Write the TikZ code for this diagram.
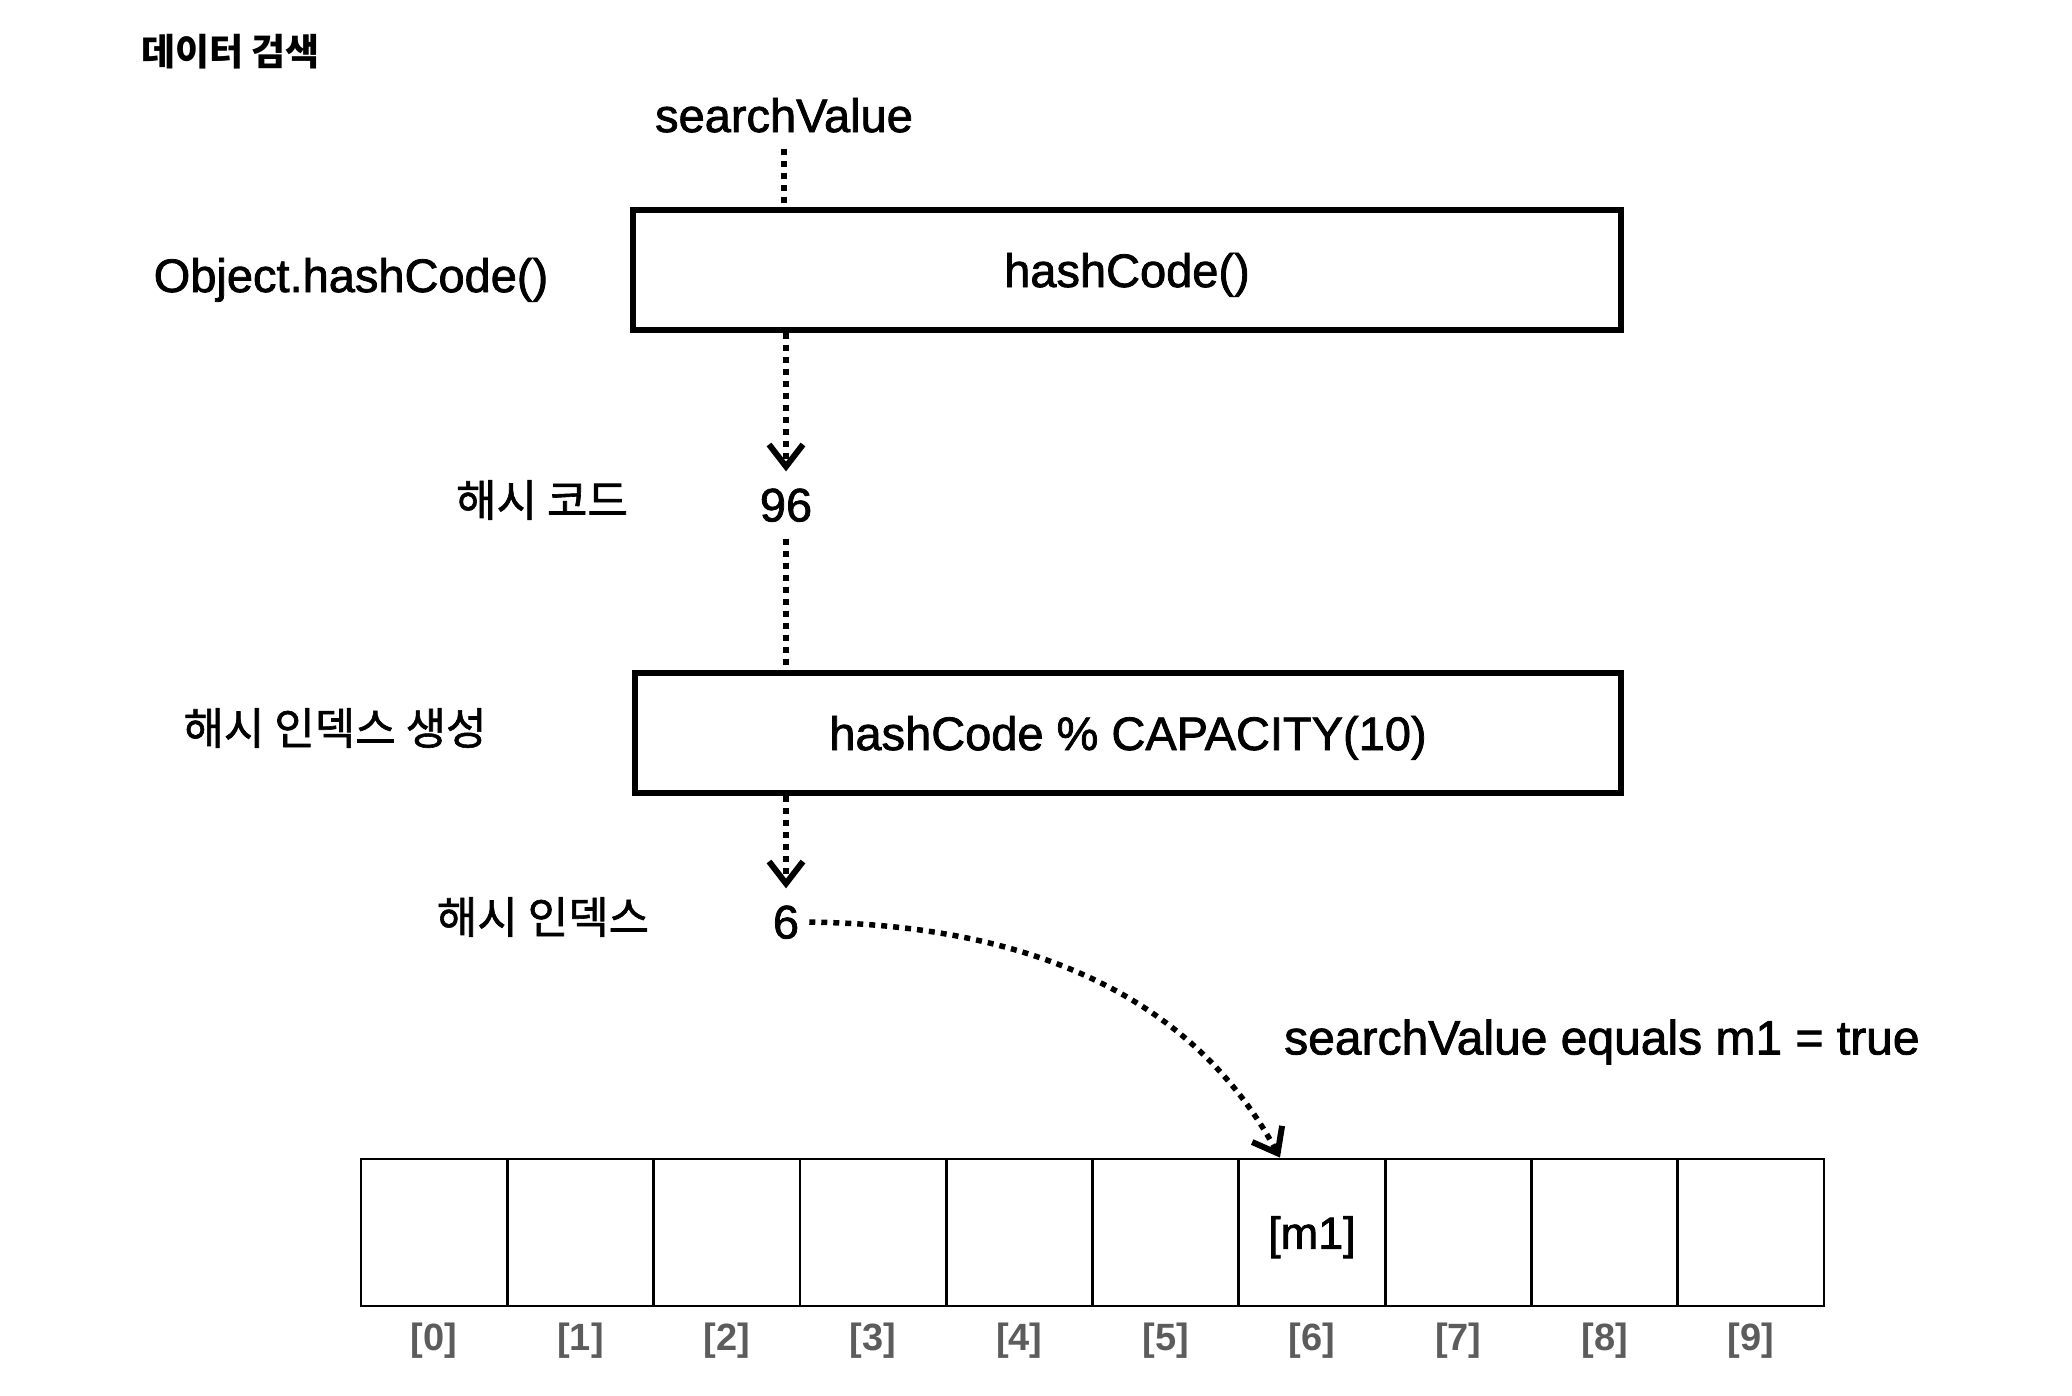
\documentclass[tikz,border=0pt]{standalone}
\usepackage{fontspec}
\setmainfont{Liberation Sans}
\newfontfamily\latf{Liberation Sans}[FakeBold=1.6]
\newfontfamily\kr{Noto Sans CJK KR}
\newfontfamily\krm{Noto Sans CJK KR}[FakeBold=1.4]
\usetikzlibrary{arrows.meta}
\definecolor{idxgray}{HTML}{5C5C5C}
\tikzset{
  lat/.style={inner sep=0pt, text depth=0pt, font=\latf\fontsize{47}{56}\selectfont},
  kor/.style={inner sep=0pt, font=\krm\fontsize{44}{52}\selectfont},
  bigbox/.style={draw, line width=5.5pt, minimum width=988pt, minimum height=120pt, inner sep=0pt, text depth=0pt, font=\latf\fontsize{47}{56}\selectfont},
  cell/.style={draw, line width=2.8pt, minimum width=146.3pt, minimum height=147pt, inner sep=0pt},
  idx/.style={inner sep=0pt, text=idxgray, font=\bfseries\fontsize{38}{46}\selectfont},
  dotline/.style={line width=5.5pt, dash pattern=on 6pt off 6pt},
  vtip/.style={-{Straight Barb[length=22pt,width=34pt,line width=6pt]}}
}
\begin{document}
\begin{tikzpicture}[x=1pt,y=-1pt]
\useasboundingbox (0,0) rectangle (2072,1396);
\node[inner sep=0pt, anchor=west, font=\kr\bfseries\fontsize{37}{42}\selectfont] (title) at (141,52) {데이터 검색};
\node[lat] (sv) at (784,115) {searchValue};
\node[bigbox] (box1) at (1127,270) {hashCode()};
\node[lat] (objhc) at (351,275) {Object.hashCode()};
\node[lat] (n96) at (786,505) {96};
\node[kor] (hclabel) at (542,500) {해시 코드};
\node[bigbox, minimum width=986pt] (box2) at (1128,733) {hashCode \% CAPACITY(10)};
\node[kor] (hilabel) at (335,728) {해시 인덱스 생성};
\node[lat] (n6) at (786,922) {6};
\node[kor] (hidx) at (543,917) {해시 인덱스};
\node[lat, anchor=west, font=\latf\fontsize{48}{56}\selectfont] (eq) at (1284,1037) {searchValue equals m1 = true};
\foreach \i in {0,...,9} {
  \node[cell] (c\i) at ({361+146.3*(\i+0.5)},1232.5) {};
  \node[idx] (l\i) at ({361+146.3*(\i+0.5)},1341) {[\i]};
}
\node[lat, font=\latf\fontsize{45}{54}\selectfont] (m1) at (c6.center) {[m1]};
% connectors
\draw[dotline, shorten <=17pt] (sv.south) -- (sv.south |- box1.north);
\draw[dotline, vtip, shorten >=17pt] (box1.south -| n96.north) -- (n96.north);
\draw[dotline, shorten <=17pt] (n96.south) -- (n96.south |- box2.north);
\draw[dotline, vtip, shorten >=17pt] (box2.south -| n6.north) -- (n6.north);
\draw[dotline, vtip, shorten <=10pt] (n6.east) .. controls (1050,925) and (1200,1010) .. ([xshift=-32pt]c6.north);
\end{tikzpicture}
\end{document}
